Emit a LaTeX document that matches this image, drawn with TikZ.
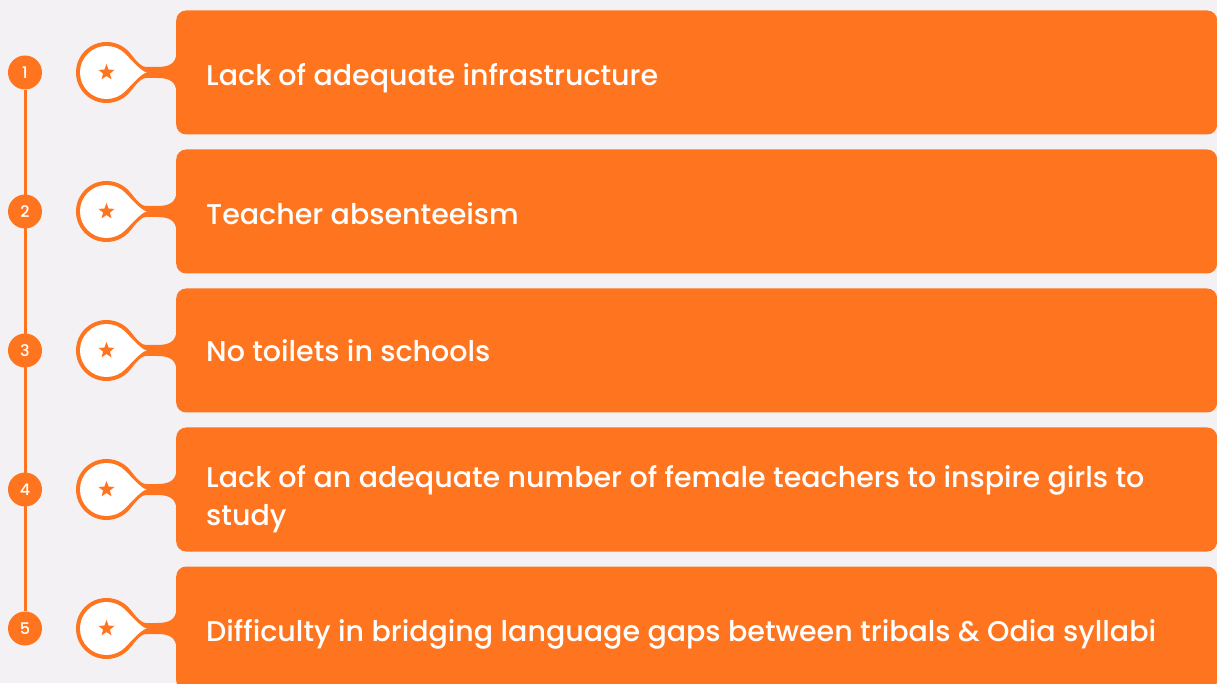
\documentclass[tikz,border=0pt]{standalone}
\usepackage{fontspec}
\setmainfont{Poppins Medium}
\usetikzlibrary{shapes.geometric,backgrounds}
\definecolor{bgcol}{HTML}{F3F1F4}
\definecolor{orng}{HTML}{FF751F}
\tikzset{
  numdot/.style={circle,fill=orng,text=white,minimum size=34pt,inner sep=0pt,font=\fontsize{16}{16}\selectfont},
  numline/.style={orng,line width=3pt},
  pinstar/.style={star,star points=5,star point ratio=2.4,fill=orng,minimum size=17pt,inner sep=0pt},
  itembox/.style={fill=orng,rounded corners=10pt,minimum width=1041pt,minimum height=124pt,inner sep=0pt,anchor=west},
  itemtext/.style={text=white,anchor=base west,align=left,inner sep=0pt,font=\fontsize{28.5}{37.5}\selectfont}
}
\begin{document}
\begin{tikzpicture}[x=1pt,y=1pt]
\useasboundingbox (0,0) rectangle (1217,683);
\clip (0,0) rectangle (1217,683);
\foreach \i/\yy/\tb/\txt in {1/610.5/597.7/{Lack of adequate infrastructure},
  2/471.5/458/{Teacher absenteeism},
  3/332.5/321.3/{No toilets in schools},
  4/193.5/157.8/{Lack of an adequate number of female teachers to inspire girls to\\study},
  5/54.5/41.3/{Difficulty in bridging language gaps between tribals \& Odia syllabi}}
{
  \node[itembox] (b\i) at (176,\yy) {};
  \node[itemtext] (t\i) at (206,\tb) {\txt};
  \node[numdot] (n\i) at (25,\yy) {\i};
  % pin: outer ring with neck, then white inside
  \begin{scope}[shift={(106.5,\yy)}]
    \fill[orng] (69.5,16) .. controls (67.5,7) and (59,5.5) .. (50.5,5.5) -- (39.5,5.5)
      .. controls (33,5.5) and (26.5,16.6) .. (21.57,21.57) arc (45:315:30.5pt)
      .. controls (26.5,-16.6) and (33,-5.5) .. (39.5,-5.5) -- (50.5,-5.5)
      .. controls (59,-5.5) and (67.5,-7) .. (69.5,-16) -- (74,-16) -- (74,16) -- cycle;
    \fill[white] (40,0) .. controls (34,1.5) and (23.7,13.7) .. (18.74,18.74) arc (45:315:26.5pt)
      .. controls (23.7,-13.7) and (34,-1.5) .. (40,0) -- cycle;
  \end{scope}
  \node[pinstar] (p\i) at (106.5,\yy) {};
}
\begin{scope}[on background layer]
  \fill[bgcol] (0,0) rectangle (1217,683);
  \draw[numline] (n1) -- (n5);
\end{scope}
\end{tikzpicture}
\end{document}
